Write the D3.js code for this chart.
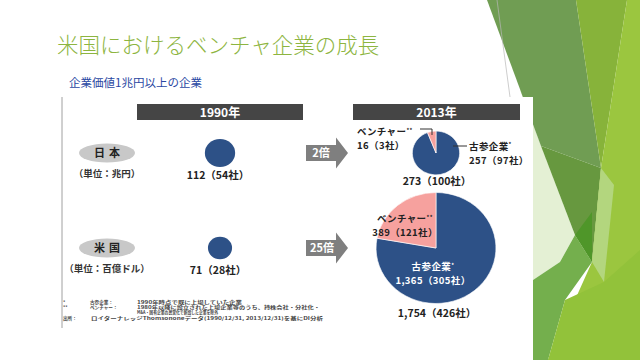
<!DOCTYPE html>
<html><head><meta charset="utf-8">
<script src="https://cdn.jsdelivr.net/npm/d3@7"></script>
<style>
html,body{margin:0;padding:0;background:#fff;}
svg{display:block;font-family:"Noto Sans CJK JP","Noto Sans",sans-serif;}
</style></head>
<body>
<svg id="c" width="640" height="360"></svg>
<script>
// ---- data ----
const regions = ["日本", "米国"];
const units = ["（単位：兆円）", "（単位：百億ドル）"];
const years = ["1990年", "2013年"];
const values1990 = [112, 71];
const companies1990 = [54, 28];
const venture2013 = [16, 389];
const ventureCompanies2013 = [3, 121];
const veteran2013 = [257, 1365];
const veteranCompanies2013 = [97, 305];
const totals2013 = [273, 1754];
const totalCompanies2013 = [100, 426];
const multipliers = ["2倍", "25倍"];
const footnoteMarks = ["*", "**", "", "出所："];
const footnoteTerms = ["古参企業：", "ベンチャー：", "", ""];
const footnoteTexts = [
  "1990年時点で既に上場していた企業",
  "1980年以降に設立された上場企業等のうち、持株会社・分社化・",
  "M&A・国有企業の民営化で新設した企業を除外",
  "ロイターナレッジThomsononeデータ(1990/12/31, 2013/12/31)を基にDI分析"
];

const svg = d3.select("#c");
const fmt = d3.format(",");

// ---- decorative background (theme) ----
const deco = [
  {c:"#e4f0d4", p:[[520,90],[575,235],[560,262],[533,280],[533,97]]},
  {c:"#709d53", p:[[487,0],[576,0],[601,168],[541,146]]},
  {c:"#67983f", p:[[541,146],[601,168],[592,262],[575,235]]},
  {c:"#87b33a", p:[[576,0],[627,0],[601,168]]},
  {c:"#9bc63f", p:[[627,0],[640,0],[640,360],[548,360],[592,262],[601,168]]},
  {c:"#b3d67e", p:[[601,168],[614,185],[604,282],[592,262]]},
  {c:"#4f9629", p:[[575,235],[592,212],[592,262]]},
  {c:"#74af4d", p:[[533,280],[560,262],[575,235],[592,262],[565,300],[548,360],[533,360]]},
  {c:"#92c23a", p:[[565,300],[604,282],[640,250],[640,360],[548,360]]}
];
svg.selectAll("polygon.deco").data(deco).join("polygon").attr("class","deco")
  .attr("points", d => d.p.map(q => q.join(",")).join(" "))
  .attr("fill", d => d.c);
svg.append("line").attr("x1",497).attr("y1",0).attr("x2",510).attr("y2",97)
  .attr("stroke","#b8b8b8").attr("stroke-width",0.7);

// ---- title ----
svg.append("text").attr("x",57).attr("y",53).text("米国におけるベンチャ企業の成長")
  .attr("font-size",21.5).attr("font-weight",300).attr("fill","#8db540");
svg.append("text").attr("x",69).attr("y",87).text("企業価値1兆円以上の企業")
  .attr("font-size",11.5).attr("fill","#2a47a2");

// ---- panel ----
const panel = {x:61, y:97, w:472, h:231};
svg.append("rect").attr("x",panel.x).attr("y",panel.y).attr("width",panel.w).attr("height",panel.h).attr("fill","#fff");
svg.append("line").attr("x1",panel.x+1).attr("x2",panel.x+1).attr("y1",panel.y).attr("y2",panel.y+panel.h)
  .attr("stroke","#a0a0a0").attr("stroke-width",1);

// scales
const colX = d3.scalePoint().domain(years).range([220, 436]);
const rowY = d3.scalePoint().domain(regions).range([153, 248]);
const rScale = d3.scaleSqrt().domain([0, 1754]).range([0, 55.5]);
const stretch = 1.08;
const blue = "#2d5187", pink = "#f6a19e";

// header bars
const barX = {"1990年":[137,303], "2013年":[353,520]};
years.forEach(y => {
  const [x0,x1] = barX[y];
  svg.append("rect").attr("x",x0).attr("y",104).attr("width",x1-x0).attr("height",16).attr("fill","#454545");
  svg.append("text").attr("x",(x0+x1)/2).attr("y",116.5).attr("text-anchor","middle")
    .attr("font-size",12).attr("font-weight",700).attr("fill","#fff").text(y);
});

// region labels
regions.forEach((r,i) => {
  const cy = rowY(r);
  svg.append("ellipse").attr("cx",107).attr("cy",cy).attr("rx",28).attr("ry",9.5).attr("fill","#c8c8c8");
  svg.append("text").attr("x",109).attr("y",cy+4).attr("text-anchor","middle")
    .attr("font-size",11).attr("font-weight",700).attr("fill","#222").attr("letter-spacing",4).text(r);
  svg.append("text").attr("x",107).attr("y",cy+24).attr("text-anchor","middle")
    .attr("font-size",9.5).attr("font-weight",700).attr("fill","#333").text(units[i]);
});

// 1990 circles
regions.forEach((r,i) => {
  const cy = rowY(r), cx = colX("1990年");
  const rr = rScale(values1990[i]);
  svg.append("ellipse").attr("cx",cx).attr("cy",cy).attr("rx",rr*stretch).attr("ry",rr).attr("fill",blue);
  svg.append("text").attr("x",cx-2).attr("y",cy+25.5).attr("text-anchor","middle")
    .attr("font-size",10.5).attr("font-weight",700).attr("fill","#222")
    .text(`${fmt(values1990[i])}（${companies1990[i]}社）`);
});

// arrows
regions.forEach((r,i) => {
  const cy = rowY(r);
  const x0 = 306, xh = 336, xt = 348, bh = 8, hh = 15.5;
  const pts = [[x0,cy-bh],[xh,cy-bh],[xh,cy-hh],[xt,cy],[xh,cy+hh],[xh,cy+bh],[x0,cy+bh]];
  svg.append("polygon").attr("points",pts.map(p=>p.join(",")).join(" ")).attr("fill","#7f7f7f");
  svg.append("text").attr("x",(x0+xh)/2+(i===0?0:1)).attr("y",cy+4).attr("text-anchor","middle")
    .attr("font-size",11).attr("font-weight",700).attr("fill","#fff").text(multipliers[i]);
});

// 2013 pies
const pie = d3.pie().sort(null);
const arc = d3.arc().innerRadius(0);
regions.forEach((r,i) => {
  const cy = rowY(r), cx = colX("2013年");
  const rr = rScale(totals2013[i]);
  const g = svg.append("g").attr("transform",`translate(${cx},${cy}) scale(${stretch},1)`);
  g.selectAll("path").data(pie([veteran2013[i], venture2013[i]])).join("path")
    .attr("d", d => arc.outerRadius(rr)(d))
    .attr("fill",(d,j)=> j===0?blue:pink)
    .attr("stroke","#fff").attr("stroke-width",0.6);
  svg.append("text").attr("x",cx+1).attr("y",cy+rr+(i===0?10.5:13.5)).attr("text-anchor","middle")
    .attr("font-size",10.5).attr("font-weight",700).attr("fill","#222")
    .text(`${fmt(totals2013[i])}（${totalCompanies2013[i]}社）`);
});

// pie annotations: two separate lines
const LS = 14;
function label(x, y, anchor, main, sup, line2, color){
  const t = svg.append("text").attr("x",x).attr("y",y).attr("text-anchor",anchor)
    .attr("font-size",9.5).attr("font-weight",700).attr("fill",color).attr("letter-spacing",0.4);
  t.append("tspan").text(main);
  t.append("tspan").attr("font-size",5.5).attr("dy",-3.5).text(sup);
  svg.append("text").attr("x",x).attr("y",y+LS).attr("text-anchor",anchor)
    .attr("font-size",9.5).attr("font-weight",700).attr("fill",color).attr("letter-spacing",0.4).text(line2);
}
{
  const cy = rowY("日本");
  label(357, cy-18, "start", "ベンチャー", "**", `${venture2013[0]}（${ventureCompanies2013[0]}社）`, "#222");
  svg.append("path").attr("d",`M420,${cy-24}H432V${cy-18}`).attr("fill","none").attr("stroke","#333").attr("stroke-width",1);
  svg.append("line").attr("x1",453).attr("x2",467).attr("y1",cy-7).attr("y2",cy-7).attr("stroke","#333").attr("stroke-width",1);
  label(469, cy-3.5, "start", "古参企業", "*", `${veteran2013[0]}（${veteranCompanies2013[0]}社）`, "#222");
}
{
  const cy = rowY("米国");
  label(405, cy-26, "middle", "ベンチャー", "**", `${venture2013[1]}（${ventureCompanies2013[1]}社）`, "#222");
  label(433, cy+22, "middle", "古参企業", "*", `${fmt(veteran2013[1])}（${veteranCompanies2013[1]}社）`, "#fff");
}

// footnotes
const fy = [304, 309, 314, 319.5];
const descX = [137, 137, 137, 91];
const descW = [105, 183, 81, 232];
footnoteTexts.forEach((txt,k) => {
  const g = svg.append("g").attr("font-size",4.6).attr("font-weight",700).attr("fill","#444");
  if (footnoteMarks[k]) g.append("text").attr("x",63).attr("y",fy[k]).text(footnoteMarks[k]);
  if (footnoteTerms[k]) g.append("text").attr("x",90).attr("y",fy[k]).text(footnoteTerms[k]);
  g.append("text").attr("x",descX[k]).attr("y",fy[k])
    .attr("textLength",descW[k]).attr("lengthAdjust","spacingAndGlyphs").text(txt);
});
</script>
</body></html>
